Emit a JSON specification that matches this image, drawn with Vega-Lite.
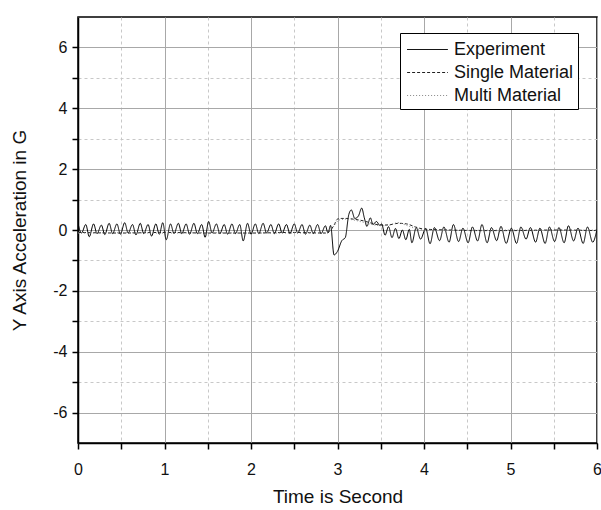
{
  "$schema": "https://vega.github.io/schema/vega-lite/v6.json",
  "autosize": "none",
  "width": 519,
  "height": 426,
  "padding": {"left": 78, "top": 17, "right": 4, "bottom": 67},
  "background": "white",
  "config": {
    "font": "Liberation Sans",
    "view": {"stroke": "black", "strokeWidth": 1.5},
    "axis": {
      "domainColor": "black",
      "domainWidth": 1.5,
      "tickColor": "black",
      "tickWidth": 1.5,
      "tickSize": 6,
      "labelFont": "Liberation Sans",
      "labelFontSize": 16,
      "labelColor": "#111",
      "titleFont": "Liberation Sans",
      "titleFontSize": 19,
      "titleFontWeight": "normal",
      "titleColor": "#111",
      "gridColor": {"condition": {"test": "datum.value % 1 !== 0", "value": "#c8c8c8"}, "value": "#a8a8a8"}
    }
  },
  "data": {
    "values": [
      {"t": 0.00, "v": 0.22, "s": "Experiment"},
      {"t": 0.04, "v": -0.10, "s": "Experiment"},
      {"t": 0.09, "v": 0.18, "s": "Experiment"},
      {"t": 0.13, "v": -0.22, "s": "Experiment"},
      {"t": 0.18, "v": 0.20, "s": "Experiment"},
      {"t": 0.22, "v": -0.12, "s": "Experiment"},
      {"t": 0.27, "v": 0.16, "s": "Experiment"},
      {"t": 0.31, "v": -0.15, "s": "Experiment"},
      {"t": 0.36, "v": 0.22, "s": "Experiment"},
      {"t": 0.40, "v": -0.12, "s": "Experiment"},
      {"t": 0.45, "v": 0.20, "s": "Experiment"},
      {"t": 0.49, "v": -0.14, "s": "Experiment"},
      {"t": 0.54, "v": 0.24, "s": "Experiment"},
      {"t": 0.58, "v": -0.10, "s": "Experiment"},
      {"t": 0.63, "v": 0.18, "s": "Experiment"},
      {"t": 0.67, "v": -0.16, "s": "Experiment"},
      {"t": 0.72, "v": 0.22, "s": "Experiment"},
      {"t": 0.76, "v": -0.12, "s": "Experiment"},
      {"t": 0.81, "v": 0.18, "s": "Experiment"},
      {"t": 0.85, "v": -0.20, "s": "Experiment"},
      {"t": 0.90, "v": 0.20, "s": "Experiment"},
      {"t": 0.94, "v": -0.14, "s": "Experiment"},
      {"t": 0.98, "v": 0.24, "s": "Experiment"},
      {"t": 1.02, "v": -0.32, "s": "Experiment"},
      {"t": 1.07, "v": 0.20, "s": "Experiment"},
      {"t": 1.11, "v": -0.12, "s": "Experiment"},
      {"t": 1.16, "v": 0.22, "s": "Experiment"},
      {"t": 1.20, "v": -0.12, "s": "Experiment"},
      {"t": 1.25, "v": 0.20, "s": "Experiment"},
      {"t": 1.29, "v": -0.14, "s": "Experiment"},
      {"t": 1.34, "v": 0.22, "s": "Experiment"},
      {"t": 1.38, "v": -0.12, "s": "Experiment"},
      {"t": 1.43, "v": 0.18, "s": "Experiment"},
      {"t": 1.47, "v": -0.24, "s": "Experiment"},
      {"t": 1.51, "v": 0.28, "s": "Experiment"},
      {"t": 1.55, "v": -0.10, "s": "Experiment"},
      {"t": 1.60, "v": 0.20, "s": "Experiment"},
      {"t": 1.64, "v": -0.12, "s": "Experiment"},
      {"t": 1.69, "v": 0.18, "s": "Experiment"},
      {"t": 1.73, "v": -0.14, "s": "Experiment"},
      {"t": 1.78, "v": 0.20, "s": "Experiment"},
      {"t": 1.82, "v": -0.12, "s": "Experiment"},
      {"t": 1.87, "v": 0.18, "s": "Experiment"},
      {"t": 1.91, "v": -0.36, "s": "Experiment"},
      {"t": 1.96, "v": 0.22, "s": "Experiment"},
      {"t": 2.00, "v": -0.14, "s": "Experiment"},
      {"t": 2.05, "v": 0.20, "s": "Experiment"},
      {"t": 2.09, "v": -0.12, "s": "Experiment"},
      {"t": 2.14, "v": 0.22, "s": "Experiment"},
      {"t": 2.18, "v": -0.10, "s": "Experiment"},
      {"t": 2.23, "v": 0.18, "s": "Experiment"},
      {"t": 2.27, "v": -0.12, "s": "Experiment"},
      {"t": 2.32, "v": 0.20, "s": "Experiment"},
      {"t": 2.36, "v": -0.10, "s": "Experiment"},
      {"t": 2.41, "v": 0.18, "s": "Experiment"},
      {"t": 2.45, "v": -0.12, "s": "Experiment"},
      {"t": 2.50, "v": 0.20, "s": "Experiment"},
      {"t": 2.54, "v": -0.10, "s": "Experiment"},
      {"t": 2.59, "v": 0.18, "s": "Experiment"},
      {"t": 2.63, "v": -0.14, "s": "Experiment"},
      {"t": 2.68, "v": 0.16, "s": "Experiment"},
      {"t": 2.72, "v": -0.12, "s": "Experiment"},
      {"t": 2.77, "v": 0.18, "s": "Experiment"},
      {"t": 2.81, "v": -0.12, "s": "Experiment"},
      {"t": 2.86, "v": 0.14, "s": "Experiment"},
      {"t": 2.89, "v": -0.10, "s": "Experiment"},
      {"t": 2.92, "v": 0.15, "s": "Experiment"},
      {"t": 2.96, "v": -0.82, "s": "Experiment"},
      {"t": 3.00, "v": -0.70, "s": "Experiment"},
      {"t": 3.05, "v": -0.35, "s": "Experiment"},
      {"t": 3.09, "v": -0.25, "s": "Experiment"},
      {"t": 3.13, "v": 0.50, "s": "Experiment"},
      {"t": 3.16, "v": 0.66, "s": "Experiment"},
      {"t": 3.20, "v": 0.38, "s": "Experiment"},
      {"t": 3.24, "v": 0.45, "s": "Experiment"},
      {"t": 3.28, "v": 0.72, "s": "Experiment"},
      {"t": 3.31, "v": 0.40, "s": "Experiment"},
      {"t": 3.34, "v": 0.12, "s": "Experiment"},
      {"t": 3.38, "v": 0.40, "s": "Experiment"},
      {"t": 3.41, "v": 0.18, "s": "Experiment"},
      {"t": 3.45, "v": 0.28, "s": "Experiment"},
      {"t": 3.49, "v": 0.15, "s": "Experiment"},
      {"t": 3.51, "v": 0.20, "s": "Experiment"},
      {"t": 3.55, "v": -0.17, "s": "Experiment"},
      {"t": 3.59, "v": 0.11, "s": "Experiment"},
      {"t": 3.63, "v": -0.25, "s": "Experiment"},
      {"t": 3.67, "v": 0.05, "s": "Experiment"},
      {"t": 3.71, "v": -0.28, "s": "Experiment"},
      {"t": 3.75, "v": 0.00, "s": "Experiment"},
      {"t": 3.79, "v": -0.32, "s": "Experiment"},
      {"t": 3.83, "v": 0.02, "s": "Experiment"},
      {"t": 3.86, "v": -0.42, "s": "Experiment"},
      {"t": 3.91, "v": 0.08, "s": "Experiment"},
      {"t": 3.96, "v": -0.30, "s": "Experiment"},
      {"t": 4.02, "v": 0.05, "s": "Experiment"},
      {"t": 4.07, "v": -0.45, "s": "Experiment"},
      {"t": 4.12, "v": 0.08, "s": "Experiment"},
      {"t": 4.18, "v": -0.35, "s": "Experiment"},
      {"t": 4.23, "v": 0.10, "s": "Experiment"},
      {"t": 4.29, "v": -0.40, "s": "Experiment"},
      {"t": 4.34, "v": 0.18, "s": "Experiment"},
      {"t": 4.40, "v": -0.38, "s": "Experiment"},
      {"t": 4.45, "v": 0.06, "s": "Experiment"},
      {"t": 4.51, "v": -0.42, "s": "Experiment"},
      {"t": 4.56, "v": 0.10, "s": "Experiment"},
      {"t": 4.62, "v": -0.36, "s": "Experiment"},
      {"t": 4.67, "v": 0.18, "s": "Experiment"},
      {"t": 4.73, "v": -0.42, "s": "Experiment"},
      {"t": 4.78, "v": 0.08, "s": "Experiment"},
      {"t": 4.84, "v": -0.35, "s": "Experiment"},
      {"t": 4.89, "v": 0.12, "s": "Experiment"},
      {"t": 4.95, "v": -0.44, "s": "Experiment"},
      {"t": 5.01, "v": 0.06, "s": "Experiment"},
      {"t": 5.07, "v": -0.44, "s": "Experiment"},
      {"t": 5.12, "v": 0.10, "s": "Experiment"},
      {"t": 5.18, "v": -0.30, "s": "Experiment"},
      {"t": 5.23, "v": 0.08, "s": "Experiment"},
      {"t": 5.29, "v": -0.40, "s": "Experiment"},
      {"t": 5.34, "v": 0.06, "s": "Experiment"},
      {"t": 5.40, "v": -0.44, "s": "Experiment"},
      {"t": 5.45, "v": 0.10, "s": "Experiment"},
      {"t": 5.51, "v": -0.38, "s": "Experiment"},
      {"t": 5.56, "v": 0.08, "s": "Experiment"},
      {"t": 5.62, "v": -0.42, "s": "Experiment"},
      {"t": 5.67, "v": 0.14, "s": "Experiment"},
      {"t": 5.73, "v": -0.36, "s": "Experiment"},
      {"t": 5.78, "v": 0.06, "s": "Experiment"},
      {"t": 5.84, "v": -0.44, "s": "Experiment"},
      {"t": 5.89, "v": 0.10, "s": "Experiment"},
      {"t": 5.95, "v": -0.40, "s": "Experiment"},
      {"t": 6.00, "v": 0.02, "s": "Experiment"},

      {"t": 0.00, "v": -0.08, "s": "Single Material"},
      {"t": 0.50, "v": -0.10, "s": "Single Material"},
      {"t": 1.00, "v": -0.08, "s": "Single Material"},
      {"t": 1.50, "v": -0.10, "s": "Single Material"},
      {"t": 2.00, "v": -0.10, "s": "Single Material"},
      {"t": 2.50, "v": -0.08, "s": "Single Material"},
      {"t": 2.86, "v": -0.10, "s": "Single Material"},
      {"t": 2.91, "v": -0.04, "s": "Single Material"},
      {"t": 2.96, "v": 0.16, "s": "Single Material"},
      {"t": 3.00, "v": 0.36, "s": "Single Material"},
      {"t": 3.05, "v": 0.38, "s": "Single Material"},
      {"t": 3.10, "v": 0.38, "s": "Single Material"},
      {"t": 3.20, "v": 0.35, "s": "Single Material"},
      {"t": 3.30, "v": 0.30, "s": "Single Material"},
      {"t": 3.40, "v": 0.22, "s": "Single Material"},
      {"t": 3.50, "v": 0.16, "s": "Single Material"},
      {"t": 3.60, "v": 0.17, "s": "Single Material"},
      {"t": 3.70, "v": 0.22, "s": "Single Material"},
      {"t": 3.80, "v": 0.20, "s": "Single Material"},
      {"t": 3.90, "v": 0.10, "s": "Single Material"},
      {"t": 4.00, "v": 0.03, "s": "Single Material"},
      {"t": 4.30, "v": 0.00, "s": "Single Material"},
      {"t": 4.60, "v": -0.02, "s": "Single Material"},
      {"t": 5.00, "v": -0.02, "s": "Single Material"},
      {"t": 5.50, "v": 0.00, "s": "Single Material"},
      {"t": 6.00, "v": -0.02, "s": "Single Material"},

      {"t": 0.00, "v": -0.10, "s": "Multi Material"},
      {"t": 0.50, "v": -0.09, "s": "Multi Material"},
      {"t": 1.00, "v": -0.10, "s": "Multi Material"},
      {"t": 1.50, "v": -0.09, "s": "Multi Material"},
      {"t": 2.00, "v": -0.10, "s": "Multi Material"},
      {"t": 2.50, "v": -0.10, "s": "Multi Material"},
      {"t": 2.88, "v": -0.10, "s": "Multi Material"},
      {"t": 2.95, "v": 0.10, "s": "Multi Material"},
      {"t": 3.02, "v": 0.33, "s": "Multi Material"},
      {"t": 3.10, "v": 0.36, "s": "Multi Material"},
      {"t": 3.20, "v": 0.32, "s": "Multi Material"},
      {"t": 3.30, "v": 0.25, "s": "Multi Material"},
      {"t": 3.40, "v": 0.18, "s": "Multi Material"},
      {"t": 3.50, "v": 0.14, "s": "Multi Material"},
      {"t": 3.60, "v": 0.16, "s": "Multi Material"},
      {"t": 3.70, "v": 0.24, "s": "Multi Material"},
      {"t": 3.80, "v": 0.15, "s": "Multi Material"},
      {"t": 3.90, "v": 0.05, "s": "Multi Material"},
      {"t": 4.00, "v": 0.00, "s": "Multi Material"},
      {"t": 4.50, "v": -0.01, "s": "Multi Material"},
      {"t": 5.00, "v": 0.00, "s": "Multi Material"},
      {"t": 5.50, "v": -0.01, "s": "Multi Material"},
      {"t": 6.00, "v": 0.00, "s": "Multi Material"}
    ]
  },
  "mark": {"type": "line", "strokeWidth": 1, "clip": true, "interpolate": "monotone"},
  "encoding": {
    "x": {
      "field": "t", "type": "quantitative",
      "scale": {"domain": [0, 6], "nice": false, "zero": false},
      "axis": {
        "title": "Time is Second",
        "values": [0, 0.5, 1, 1.5, 2, 2.5, 3, 3.5, 4, 4.5, 5, 5.5, 6],
        "labelExpr": "datum.value % 1 === 0 ? '' + datum.value : ''",
        "gridDash": {"condition": {"test": "datum.value % 1 !== 0", "value": [3, 3]}, "value": []},
        "labelPadding": 12,
        "titlePadding": 10,
        "labelFlush": false
      }
    },
    "y": {
      "field": "v", "type": "quantitative",
      "scale": {"domain": [-7, 7], "nice": false, "zero": false},
      "axis": {
        "title": "Y Axis Acceleration in G",
        "values": [-6, -5, -4, -3, -2, -1, 0, 1, 2, 3, 4, 5, 6],
        "labelExpr": "datum.value % 2 === 0 ? '' + datum.value : ''",
        "gridDash": {"condition": {"test": "datum.value % 2 !== 0", "value": [3, 3]}, "value": []},
        "gridColor": {"condition": {"test": "datum.value % 2 !== 0", "value": "#c8c8c8"}, "value": "#a8a8a8"},
        "labelPadding": 5,
        "titlePadding": 23
      }
    },
    "strokeDash": {
      "field": "s", "type": "nominal",
      "scale": {"domain": ["Experiment", "Single Material", "Multi Material"], "range": [[1, 0], [3, 2], [1, 2]]},
      "legend": {
        "title": null,
        "orient": "none",
        "legendX": 322,
        "legendY": 16,
        "strokeColor": "black",
        "fillColor": "white",
        "padding": 4,
        "symbolType": "M-1.7,0H1.7",
        "symbolSize": 576,
        "symbolStrokeWidth": 1,
        "symbolOffset": 11,
        "labelOffset": 14,
        "labelFontSize": 18,
        "labelFont": "Liberation Sans",
        "labelColor": "#111",
        "rowPadding": 1
      }
    },
    "color": {
      "field": "s", "type": "nominal",
      "scale": {"domain": ["Experiment", "Single Material", "Multi Material"], "range": ["#000000", "#222222", "#888888"]},
      "legend": {
        "title": null,
        "orient": "none",
        "legendX": 322,
        "legendY": 16,
        "strokeColor": "black",
        "fillColor": "white",
        "padding": 4,
        "symbolType": "M-1.7,0H1.7",
        "symbolSize": 576,
        "symbolStrokeWidth": 1,
        "symbolOffset": 11,
        "labelOffset": 14,
        "labelFontSize": 18,
        "labelFont": "Liberation Sans",
        "labelColor": "#111",
        "rowPadding": 1
      }
    }
  }
}
